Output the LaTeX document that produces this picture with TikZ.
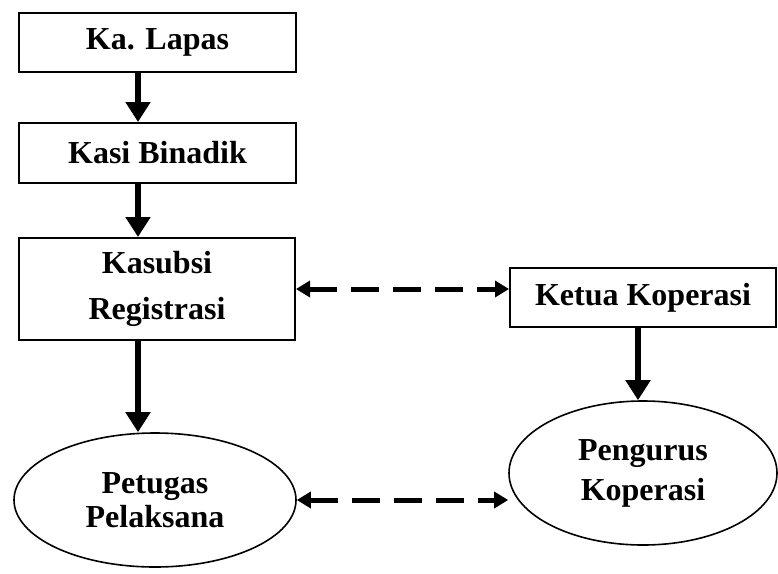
\documentclass[tikz,border=0pt]{standalone}
\usepackage{fontspec}
\setmainfont{Liberation Serif}
\usepackage{tikz}
\usetikzlibrary{positioning}
\usetikzlibrary{arrows.meta}
\usetikzlibrary{shapes.geometric,calc}

\begin{document}
\begin{tikzpicture}[x=1pt,y=-1pt,
  every node/.style={font=\fontsize{32}{40}\selectfont\bfseries,align=center},
  boxnode/.style={rectangle,draw,line width=2pt,inner sep=0pt},
  ovalnode/.style={ellipse,draw,line width=1.6pt,inner sep=0pt},
  solidarrow/.style={line width=6pt,-{Triangle[width=24pt,length=20pt]}},
  dasharrow/.style={line width=5pt,dash pattern=on 28pt off 14pt,
    {Triangle[width=16pt,length=14pt]}-{Triangle[width=16pt,length=14pt]}}]

\useasboundingbox (0,0) rectangle (778,573);

\node[boxnode,minimum width=277pt,minimum height=59pt] (lapas) at (157.5,42) {Ka. Lapas};
\node[boxnode,minimum width=277pt,minimum height=60pt] (binadik) at (157.5,153) {Kasi Binadik};
\node[boxnode,minimum width=276pt,minimum height=102pt] (kasubsi) at (157,289) {Kasubsi\\[6pt]Registrasi};
\node[ovalnode,minimum width=282pt,minimum height=134pt] (petugas) at (155,500) {Petugas\\[-6pt]Pelaksana};

\node[boxnode,minimum width=266pt,minimum height=59pt] (ketua) at (643,297.5) {Ketua Koperasi};
\node[ovalnode,minimum width=268pt,minimum height=144pt] (pengurus) at (643,473) {Pengurus\\[0pt]Koperasi};

% the left column arrows sit left of centre
\draw[solidarrow] (lapas.south -| 138,0) -- (binadik.north -| 138,0);
\draw[solidarrow] (binadik.south -| 138,0) -- (kasubsi.north -| 138,0);
\draw[solidarrow] (kasubsi.south -| 138,0) -- (petugas.north -| 138,0);
\draw[solidarrow] (ketua.south -| 638,0) -- (pengurus.north -| 638,0);

\draw[dasharrow] (kasubsi.east) -- (kasubsi.east -| ketua.west);
\draw[dasharrow] (petugas.east) -- (petugas.east -| pengurus.west);
\end{tikzpicture}
\end{document}
